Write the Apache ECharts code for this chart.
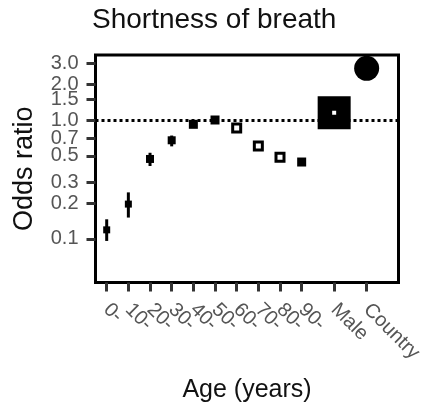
<!DOCTYPE html>
<html>
<head>
<meta charset="utf-8">
<script src="https://cdn.jsdelivr.net/npm/echarts@6/dist/echarts.min.js"></script>
<style>
  html, body { margin: 0; padding: 0; background: #fff; }
  #main { width: 423px; height: 406px; }
</style>
</head>
<body>
<div id="main"></div>
<script>
// categories along the x axis
const groups = ['0-', '10-', '20-', '30-', '40-', '50-', '60-', '70-', '80-', '90-', 'Male', 'Country'];
// odds ratio and its interval
const oddsRatio = [0.119, 0.196, 0.47, 0.675, 0.92, 1.0, 0.857, 0.604, 0.485, 0.443, 1.15, 2.72];
const lower = [0.096, 0.151, 0.41, 0.60, 0.86, 0.96, 0.83, 0.58, 0.47, 0.42, 1.12, 2.65];
const upper = [0.146, 0.246, 0.53, 0.74, 0.98, 1.04, 0.89, 0.63, 0.50, 0.47, 1.18, 2.80];
// y tick labels
const yTicks = [0.1, 0.2, 0.3, 0.5, 0.7, 1.0, 1.5, 2.0, 3.0];

// styling (not data)
const openMarker = ['60-', '70-', '80-', 'Male'];
const markerSize = [7, 7, 8, 8, 9, 9, 8, 8, 8, 9, 18.5, 25];

// ages sit one unit apart (starting at 1), Male and Country are set further out
const xPos = groups.map((g, i) => (g === 'Male' ? 11.5 : g === 'Country' ? 13 : i + 1));
const xMin = 0.483;
const xMax = 14.47;
// leading blank tick: echarts drops the first tick when labels overlap,
// so give it a dummy one at the edge and let showMinLabel:false remove that
const xTickVals = [xMin].concat(xPos);

const font = 'Liberation Sans, Arial, sans-serif';

const pointData = groups.map((g, i) => {
  const open = openMarker.includes(g);
  return {
    value: [xPos[i], oddsRatio[i]],
    symbol: g === 'Country' ? 'circle' : 'rect',
    symbolSize: markerSize[i],
    itemStyle: open
      ? { color: '#fff', borderColor: '#000', borderWidth: g === 'Male' ? 14.5 : 3, opacity: 1 }
      : { color: '#000', borderWidth: 0, opacity: 1 }
  };
});

const barData = groups.map((g, i) => [xPos[i], lower[i], upper[i]]);

const myChart = echarts.init(document.getElementById('main'));
const option = {
  animation: false,
  title: {
    text: 'Shortness of breath',
    left: 92,
    top: 6,
    padding: 0,
    textStyle: { fontFamily: font, fontSize: 28, fontWeight: 'normal', color: '#111' }
  },
  grid: {
    left: 95.5,
    right: 24.5,
    top: 55,
    bottom: 123.5,
    containLabel: false,
    outerBoundsMode: 'none',
    show: true,
    borderColor: '#000',
    borderWidth: 3,
    backgroundColor: '#fff'
  },
  xAxis: {
    type: 'value',
    min: xMin,
    max: xMax,
    name: 'Age (years)',
    nameLocation: 'middle',
    nameGap: 95,
    nameTextStyle: { fontFamily: font, fontSize: 25, color: '#111' },
    axisLine: { show: false },
    splitLine: { show: false },
    axisTick: {
      show: true,
      length: 9,
      customValues: xTickVals,
      lineStyle: { color: '#333', width: 3 }
    },
    axisLabel: {
      customValues: xTickVals,
      showMinLabel: false,
      showMaxLabel: true,
      hideOverlap: false,
      rotate: -45,
      margin: 24,
      fontFamily: font,
      fontSize: 20,
      color: '#555',
      formatter: function (v) {
        const i = xPos.indexOf(v);
        return i >= 0 ? groups[i] : '';
      }
    }
  },
  yAxis: {
    type: 'log',
    logBase: 10,
    min: 0.0429,
    max: 3.524,
    name: 'Odds ratio',
    nameLocation: 'middle',
    nameGap: 57,
    nameRotate: 90,
    nameTextStyle: { fontFamily: font, fontSize: 27, color: '#111' },
    axisLine: { show: false },
    splitLine: { show: false },
    minorTick: { show: false },
    axisTick: {
      show: true,
      length: 9,
      customValues: yTicks,
      lineStyle: { color: '#333', width: 3 }
    },
    axisLabel: {
      customValues: yTicks,
      showMinLabel: true,
      showMaxLabel: true,
      hideOverlap: false,
      margin: 17,
      fontFamily: font,
      fontSize: 20,
      color: '#555',
      formatter: function (v) { return Number(v).toFixed(1); }
    }
  },
  series: [
    {
      name: 'ci',
      type: 'custom',
      data: barData,
      z: 2,
      renderItem: function (params, api) {
        const top = api.coord([api.value(0), api.value(2)]);
        const bot = api.coord([api.value(0), api.value(1)]);
        return {
          type: 'line',
          shape: { x1: top[0], y1: top[1], x2: bot[0], y2: bot[1] },
          style: { stroke: '#000', lineWidth: 3 }
        };
      }
    },
    {
      name: 'or',
      type: 'scatter',
      data: pointData,
      z: 3,
      markLine: {
        silent: true,
        symbol: 'none',
        label: { show: false },
        lineStyle: { color: '#000', width: 3, type: [3, 3] },
        data: [{ yAxis: 1 }]
      }
    }
  ]
};
myChart.setOption(option);
window.addEventListener('resize', function () {
  myChart.resize();
});
</script>
</body>
</html>
